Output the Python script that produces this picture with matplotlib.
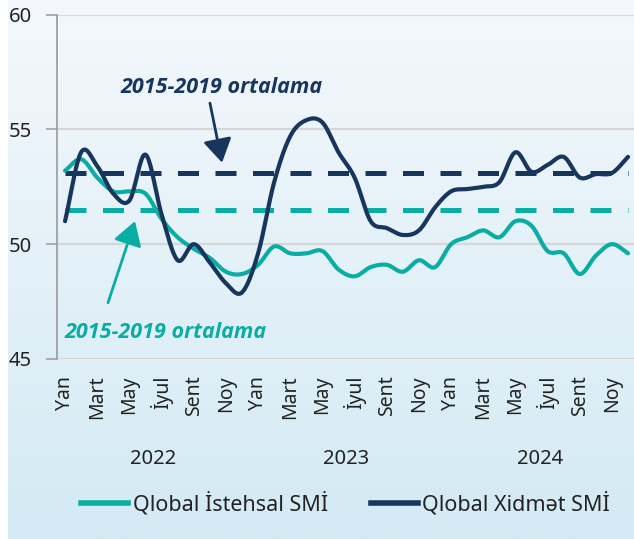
import numpy as np
import matplotlib
matplotlib.use("Agg")
import matplotlib.pyplot as plt
from matplotlib.patches import FancyArrowPatch
from matplotlib.lines import Line2D

plt.rcParams['font.family'] = ['Noto Sans', 'DejaVu Sans']

# ---- data ----
month_labels = ["Yan", "Mart", "May", "İyul", "Sent", "Noy"]
years = ["2022", "2023", "2024"]
manufacturing = [53.2, 53.7, 52.9, 52.3, 52.3, 52.2, 51.1, 50.3, 49.8, 49.4, 48.8, 48.7,
                 49.1, 49.9, 49.6, 49.6, 49.7, 48.9, 48.6, 49.0, 49.1, 48.8, 49.3, 49.0,
                 50.0, 50.3, 50.6, 50.3, 51.0, 50.8, 49.7, 49.6, 48.7, 49.5, 50.0, 49.6]
services = [51.0, 54.0, 53.4, 52.2, 51.9, 53.9, 51.3, 49.3, 50.0, 49.2, 48.3, 47.9,
            49.6, 52.7, 54.7, 55.4, 55.3, 54.0, 52.9, 51.0, 50.7, 50.4, 50.6, 51.6,
            52.3, 52.4, 52.5, 52.7, 54.0, 53.15, 53.45, 53.8, 52.9, 53.05, 53.1, 53.8]
avg_manufacturing = 51.5
avg_services = 53.1
series_names = ["Qlobal İstehsal SMİ", "Qlobal Xidmət SMİ"]
annot_text = "2015-2019 ortalama"

TEAL = "#0AADA3"
NAVY = "#17365D"
ANNOT_FONT = ['Open Sans', 'Roboto', 'DejaVu Sans']


def catmull_rom(y, n=20):
    y = np.asarray(y, float)
    p = np.concatenate([[2 * y[0] - y[1]], y, [2 * y[-1] - y[-2]]])
    xs, ys = [], []
    for i in range(len(y) - 1):
        p0, p1, p2, p3 = p[i], p[i + 1], p[i + 2], p[i + 3]
        t = np.linspace(0, 1, n, endpoint=False)
        v = 0.5 * ((2 * p1) + (-p0 + p2) * t + (2 * p0 - 5 * p1 + 4 * p2 - p3) * t ** 2
                   + (-p0 + 3 * p1 - 3 * p2 + p3) * t ** 3)
        xs.append(i + t)
        ys.append(v)
    xs.append([len(y) - 1])
    ys.append([y[-1]])
    return np.concatenate(xs), np.concatenate(ys)


W, H = 634, 539
fig = plt.figure(figsize=(W / 100, H / 100), dpi=100)
fig.patch.set_facecolor("white")

# background gradient
bg = fig.add_axes([8 / W, 0, 1 - 8 / W, 1], zorder=-5)
grad = np.linspace(0, 1, 256)[:, None]
top = np.array([244, 248, 252]) / 255
bot = np.array([211, 234, 244]) / 255
img = top[None, None, :] * (1 - grad[:, :, None]) + bot[None, None, :] * grad[:, :, None]
bg.imshow(img, aspect="auto", extent=[0, 1, 0, 1])
bg.set_axis_off()

ax = fig.add_axes([57 / W, (H - 359) / H, 1 - 57 / W, (359 - 14.5) / H])
ax.set_facecolor("none")

n = len(manufacturing)
x = np.arange(n)
ax.set_xlim(-0.5, 35.37)
ax.set_ylim(45, 60)

for v in [45, 50, 55, 60]:
    ax.axhline(v, color="#D6D6D6", lw=1.6, zorder=1)

ax.plot([0, n - 1], [avg_services] * 2, color=NAVY, lw=3.6, ls=(0, (4.2, 3.3)), zorder=2)
ax.plot([0, n - 1], [avg_manufacturing] * 2, color=TEAL, lw=3.6, ls=(0, (4.2, 3.3)), zorder=2)

xm, ym = catmull_rom(manufacturing)
xs, ys = catmull_rom(services)
ax.plot(xm, ym, color=TEAL, lw=3.0, zorder=3, solid_capstyle="round")
ax.plot(xs, ys, color=NAVY, lw=3.0, zorder=4, solid_capstyle="round")

ax.set_yticks([45, 50, 55, 60])
ax.tick_params(axis="y", length=8, width=1.2, color="#A0A0A0", labelsize=14.5, pad=10,
               labelcolor="#222222")
ticks = list(range(0, n, 2))
ax.set_xticks(ticks)
ax.set_xticklabels([month_labels[(t % 12) // 2] for t in ticks], rotation=90,
                   fontsize=14, color="#222222")
ax.tick_params(axis="x", length=0, pad=12)

for s in ["top", "right", "bottom"]:
    ax.spines[s].set_visible(False)
ax.spines["left"].set_color("#A0A0A0")
ax.spines["left"].set_linewidth(1.3)

for i, yr in enumerate(years):
    ax.text(i * 12 + 5.5, -0.29, yr, transform=ax.get_xaxis_transform(),
            ha="center", va="center", fontsize=14.5, color="#222222")

# annotations
ax.text(9.76, 56.84, annot_text, color=NAVY, fontsize=15.5, fontweight="bold",
        fontstyle="italic", ha="center", va="center", family=ANNOT_FONT)
ax.text(-0.06, 46.14, annot_text, color=TEAL, fontsize=15.5, fontweight="bold",
        fontstyle="italic", ha="left", va="center", family=ANNOT_FONT)
ax.add_patch(FancyArrowPatch((9.01, 56.14), (9.76, 53.55), arrowstyle="-|>,head_length=9,head_width=5.5",
                             color=NAVY, lw=2.0, mutation_scale=1.6, shrinkA=0, shrinkB=0, zorder=5))
ax.add_patch(FancyArrowPatch((2.67, 47.45), (4.35, 51.0), arrowstyle="-|>,head_length=9,head_width=5.5",
                             color=TEAL, lw=2.0, mutation_scale=1.6, shrinkA=0, shrinkB=0, zorder=5))

handles = [Line2D([], [], color=TEAL, lw=4), Line2D([], [], color=NAVY, lw=4)]
ax.legend(handles, series_names, loc="center", bbox_to_anchor=(0.5, -0.42), ncol=2,
          frameon=False, fontsize=15.5, handlelength=2.2, handletextpad=0.2, columnspacing=2.0,
          labelcolor="#222222")

fig.savefig("out.png", dpi=100)
